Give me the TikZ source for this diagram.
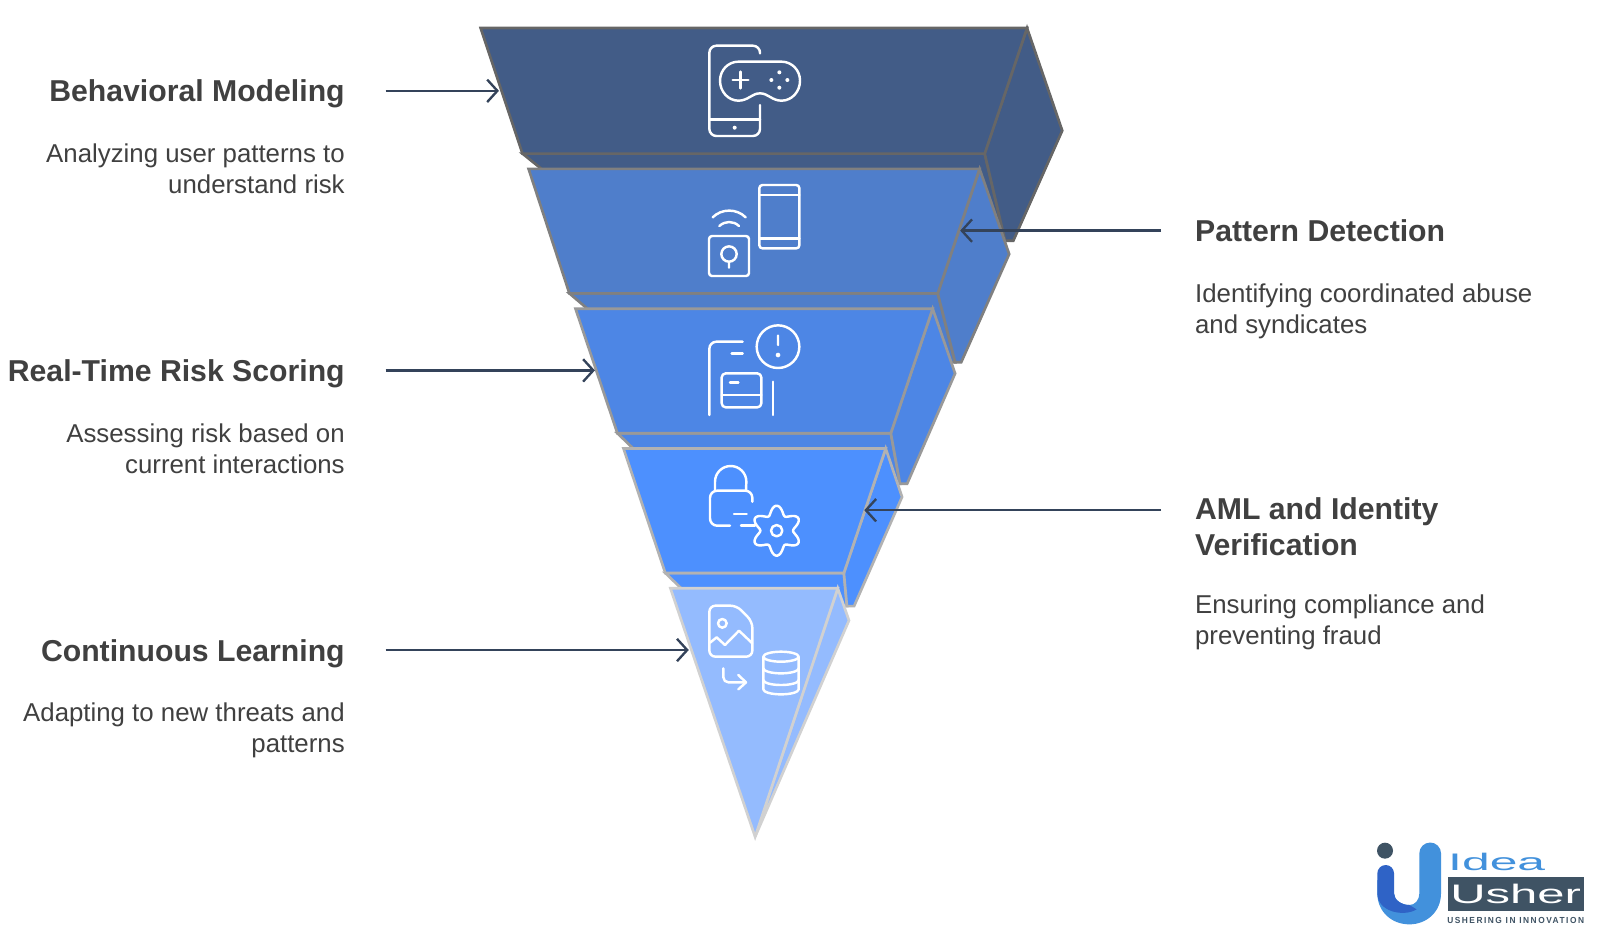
\documentclass[tikz,border=0pt]{standalone}
\usepackage{fontspec}
\setmainfont{Liberation Sans}
\usetikzlibrary{arrows.meta}

\definecolor{LayerA}{HTML}{425C87}
\definecolor{LayerB}{HTML}{4F7ECB}
\definecolor{LayerC}{HTML}{4D86E5}
\definecolor{LayerD}{HTML}{4D90FE}
\definecolor{LayerE}{HTML}{94BBFE}
\definecolor{ArrowInk}{HTML}{34435A}
\definecolor{TextInk}{HTML}{404040}
\definecolor{LogoDark}{HTML}{3F5364}
\definecolor{LogoBlue}{HTML}{4291DC}
\definecolor{LogoDeep}{HTML}{2F63C6}

\tikzset{
    slab/.style 2 args={fill=#1, draw=#2, line width=2.6},
    pointer/.style={draw=ArrowInk, line width=2.3, -{Straight Barb[length=10pt, width=22pt, line width=2.3]}},
    icon/.style={draw=white, line width=2.4, line cap=round, line join=round},
    heading/.style={text=TextInk, inner sep=0, align=#1, font=\fontsize{29.6}{35.5}\selectfont\bfseries},
    blurb/.style={text=TextInk, inner sep=0, align=#1, font=\fontsize{25.3}{30.5}\selectfont},
}

\begin{document}
\begin{tikzpicture}[x=1pt, y=-1pt]
    \useasboundingbox[fill=white] (0,0) rectangle (1568,911.4);

    % layers, top one first so that each next one covers the one above
    \draw[slab={LayerA}{black!60}] (512,150.5) -- (965,150.5) -- (985,236) -- (600,230) -- (530,165) -- cycle;
    \draw[slab={LayerA}{black!60}] (1006.5,27.5) -- (1041,128) -- (993,236) -- (985,236) -- (965,150.5) -- cycle;
    \draw[slab={LayerA}{black!60}] (471,27.5) -- (1006.5,27.5) -- (965,150.5) -- (512,150.5) -- cycle;

    \draw[slab={LayerB}{black!50}] (558,287.5) -- (919,287.5) -- (936,355) -- (640,350) -- (575,302) -- cycle;
    \draw[slab={LayerB}{black!50}] (960,165.5) -- (989,249) -- (942,355) -- (936,355) -- (919,287.5) -- cycle;
    \draw[slab={LayerB}{black!50}] (518,165.5) -- (960,165.5) -- (919,287.5) -- (558,287.5) -- cycle;

    \draw[slab={LayerC}{black!40}] (605,424.5) -- (873,424.5) -- (882,474) -- (680,470) -- (620,439) -- cycle;
    \draw[slab={LayerC}{black!40}] (914,302.5) -- (936,366) -- (889,474) -- (882,474) -- (873,424.5) -- cycle;
    \draw[slab={LayerC}{black!40}] (564,302.5) -- (914,302.5) -- (873,424.5) -- (605,424.5) -- cycle;

    \draw[slab={LayerD}{black!30}] (652,561.5) -- (827,561.5) -- (830,594) -- (700,590) -- (667,576) -- cycle;
    \draw[slab={LayerD}{black!30}] (868,439.5) -- (884,487) -- (837,594) -- (830,594) -- (827,561.5) -- cycle;
    \draw[slab={LayerD}{black!30}] (611,439.5) -- (868,439.5) -- (827,561.5) -- (652,561.5) -- cycle;

    \draw[slab={LayerE}{black!18}] (821,576.5) -- (832,608) -- (740,820) -- cycle;
    \draw[slab={LayerE}{black!18}] (657,576.5) -- (821,576.5) -- (740,820) -- cycle;

    % phone and game controller
    \begin{scope}[shift={(666.4,29.4)}, scale=0.3267]
        \draw[icon, rounded corners=7pt] (240,70) -- (240,47) -- (88,47) -- (88,318) -- (240,318) -- (240,225);
        \draw[icon] (88,268) -- (240,268);
        \fill[white] (164,293) circle (6);
        \draw[icon] (175,95) -- (305,95) .. controls (335,95) and (360,120) .. (360,152) .. controls (360,185) and (335,212) .. (305,212) .. controls (275,212) and (265,190) .. (240,190) .. controls (215,190) and (205,212) .. (175,212) .. controls (145,212) and (120,185) .. (120,152) .. controls (120,120) and (145,95) .. (175,95) -- cycle;
        \draw[icon] (158,150) -- (205,150) (181,125) -- (181,175);
        \foreach \dotx/\doty in {298/127, 298/173, 274/150, 322/150}
            \fill[white] (\dotx,\doty) circle (6);
    \end{scope}

    % phone and wireless lock
    \begin{scope}[shift={(676.2,166.6)}, scale=0.3267]
        \draw[icon, rounded corners=3pt] (208,45) rectangle (328,235);
        \draw[icon] (208,75) -- (328,75) (208,205) -- (328,205);
        \draw[icon] (68,142) .. controls (95,115) and (140,115) .. (167,142);
        \draw[icon] (88,168) .. controls (105,152) and (130,152) .. (147,168);
        \draw[icon, rounded corners=3pt] (57,198) rectangle (177,318);
        \draw[icon] (117,252) circle (23) (117,275) -- (117,293);
    \end{scope}

    % phone, card and alert
    \begin{scope}[shift={(676.2,313.6)}, scale=0.3267]
        \draw[icon] (264,80) circle (64) (264,47) -- (264,75);
        \fill[white] (264,105) circle (7);
        \draw[icon, rounded corners=7pt] (58,285) -- (58,65) -- (158,65);
        \draw[icon] (125,101) -- (158,101) (120,188) -- (145,188) (95,225) -- (214,225) (249,185) -- (249,285);
        \draw[icon, rounded corners=4pt] (95,160) rectangle (214,262);
    \end{scope}

    % lock and gear
    \begin{scope}[shift={(676.2,450.8)}, scale=0.3267]
        \draw[icon] (75,92) -- (75,65) arc[start angle=180, end angle=360, radius=47] -- (168,92);
        \draw[icon, rounded corners=7pt] (187,125) -- (187,92) -- (60,92) -- (60,197) -- (120,197);
        \draw[icon] (132,162) -- (170,162) (153,197) -- (195,197);
        \draw[icon] (260,212) circle (17);
        \draw[icon] plot[domain=0:360, samples=91, smooth] ({260+(62+13*cos(6*(\x-90)))*cos(\x)}, {212+(62+13*cos(6*(\x-90)))*sin(\x)});
    \end{scope}

    % picture file and database
    \begin{scope}[shift={(676.2,588)}, scale=0.3267]
        \draw[icon, rounded corners=6pt] (58,17) -- (140,17) -- (187,65) -- (187,170) -- (58,170) -- cycle;
        \draw[icon] (97,70) circle (13);
        \draw[icon] (60,128) -- (80,112) -- (105,135) -- (147,92) -- (187,130);
        \draw[icon, rounded corners=5pt] (100,205) -- (100,247) -- (165,247);
        \draw[icon] (145,225) -- (168,247) -- (145,268);
        \draw[icon] (273,170) ellipse (53 and 15);
        \draw[icon] (220,170) -- (220,268) arc[start angle=180, end angle=0, x radius=53, y radius=15] -- (326,170);
        \draw[icon] (220,205) arc[start angle=180, end angle=0, x radius=53, y radius=15];
        \draw[icon] (220,240) arc[start angle=180, end angle=0, x radius=53, y radius=15];
    \end{scope}

    % texts on the left
    \node[heading=right, anchor=east] (behaviorTitle) at (338,92) {Behavioral Modeling};
    \node[blurb=right, anchor=east] (behaviorText) at (338,165) {Analyzing user patterns to\\understand risk};
    \node[heading=right, anchor=east] (scoringTitle) at (338,366) {Real-Time Risk Scoring};
    \node[blurb=right, anchor=east] (scoringText) at (338,439.5) {Assessing risk based on\\current interactions};
    \node[heading=right, anchor=east] (learningTitle) at (338,640.5) {Continuous Learning};
    \node[blurb=right, anchor=east] (learningText) at (338,716) {Adapting to new threats and\\patterns};

    % texts on the right
    \node[heading=left, anchor=west] (patternTitle) at (1171,226) {Pattern Detection};
    \node[blurb=left, anchor=west] (patternText) at (1171,305) {Identifying coordinated abuse\\and syndicates};
    \node[heading=left, anchor=west] (amlTitle) at (1171,516.5) {AML and Identity\\Verification};
    \node[blurb=left, anchor=west] (amlText) at (1171,610) {Ensuring compliance and\\preventing fraud};

    % arrows, free ends are named
    \coordinate (behaviorStart) at (378,89);
    \coordinate (behaviorEnd) at (489,89);
    \coordinate (patternStart) at (1138,226);
    \coordinate (patternEnd) at (941,226);
    \coordinate (scoringStart) at (378,363);
    \coordinate (scoringEnd) at (583,363);
    \coordinate (amlStart) at (1138,500);
    \coordinate (amlEnd) at (847,500);
    \coordinate (learningStart) at (378,637);
    \coordinate (learningEnd) at (675,637);
    \foreach \arrowname in {behavior, pattern, scoring, aml, learning}
        \draw[pointer] (\arrowname Start) -- (\arrowname End);

    % logo
    \begin{scope}[shift={(1332.8,813.4)}, scale=0.3267]
        \fill[LogoDark] (75,62) circle (24);
        \fill[LogoBlue] (178,70) arc[start angle=180, end angle=360, radius=32.5] -- (243,190) .. controls (243,245) and (200,283) .. (148,283) .. controls (95,283) and (52,245) .. (52,190) -- (52,150) -- (102,190) .. controls (102,210) and (125,225) .. (148,225) .. controls (165,225) and (178,210) .. (178,190) -- cycle;
        \fill[LogoDeep] (52,130) arc[start angle=180, end angle=360, radius=25] -- (102,190) .. controls (102,210) and (125,225) .. (148,225) -- (170,238) .. controls (130,262) and (52,245) .. (52,190) -- cycle;
        \fill[LogoDark] (264,142) rectangle (672,243);
        \node[inner sep=0, text=LogoBlue] (logoIdea) at (410,95) {\resizebox{95pt}{17pt}{Idea}};
        \node[inner sep=0, text=white] (logoUsher) at (467,193) {\resizebox{128pt}{19pt}{Usher}};
        \node[inner sep=0, text=LogoDark] (logoTag) at (467,271) {\resizebox{134pt}{6pt}{\addfontfeature{LetterSpace=18}\bfseries USHERING IN INNOVATION}};
    \end{scope}
\end{tikzpicture}
\end{document}
